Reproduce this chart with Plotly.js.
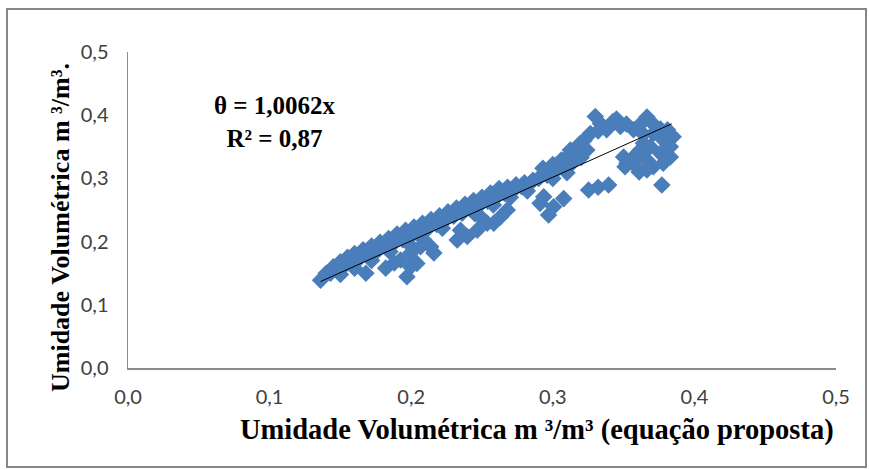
<!DOCTYPE html>
<html>
<head>
<meta charset="utf-8">
<script src="https://cdn.plot.ly/plotly-3.0.1.min.js"></script>
<style>html,body{margin:0;padding:0;background:#fff;}#chart{width:869px;height:470px;}</style>
</head>
<body>
<div id="chart"></div>
<script>
// Umidade volumétrica (equação proposta) vs medida, m3/m3
const bandTopX = [0.140,0.145,0.150,0.155,0.160,0.166,0.172,0.178,0.184,0.190,0.196,0.202,0.208,0.214,0.220,0.226,0.232,0.238,0.244,0.250,0.256,0.262,0.268,0.274,0.280,0.286,0.293,0.300,0.306,0.313,0.322];
const bandTopY = [0.150,0.160,0.168,0.175,0.181,0.187,0.193,0.199,0.205,0.212,0.218,0.223,0.229,0.235,0.241,0.247,0.253,0.259,0.265,0.270,0.277,0.284,0.286,0.290,0.293,0.297,0.316,0.322,0.329,0.337,0.360];

const bandMidX = [0.136,0.143,0.148,0.153,0.158,0.163,0.170,0.176,0.182,0.188,0.194,0.200,0.206,0.212,0.218,0.224,0.230,0.236,0.242,0.248,0.254,0.260,0.266,0.272,0.278,0.284,0.290,0.296,0.302,0.308,0.314,0.320];
const bandMidY = [0.139,0.150,0.157,0.162,0.167,0.172,0.178,0.185,0.191,0.198,0.203,0.209,0.215,0.221,0.227,0.234,0.240,0.245,0.251,0.257,0.264,0.270,0.276,0.281,0.287,0.292,0.300,0.305,0.312,0.318,0.325,0.333];

const bandLowX = [0.150,0.160,0.172,0.185,0.198,0.222,0.245,0.258,0.270,0.282,0.300,0.310];
const bandLowY = [0.148,0.158,0.170,0.184,0.197,0.221,0.244,0.258,0.270,0.280,0.300,0.309];

const lowClusterX = [0.168,0.182,0.188,0.1925,0.197,0.1996,0.1996,0.204,0.2066,0.209,0.2137,0.216,0.2325,0.2348,0.2396,0.2466,0.249,0.2537,0.2583,0.263,0.2678,0.291,0.2936,0.297,0.3006,0.3077,0.3253,0.332,0.3394,0.377];
const lowClusterY = [0.150,0.158,0.166,0.171,0.1445,0.160,0.182,0.1655,0.192,0.2025,0.192,0.182,0.2025,0.218,0.208,0.218,0.239,0.229,0.229,0.239,0.250,0.2605,0.271,0.242,0.255,0.268,0.2816,0.286,0.2896,0.2896];

const upperX = [0.310,0.3124,0.317,0.3195,0.324,0.3265,0.330,0.332,0.3336,0.338,0.3425,0.345,0.3477,0.352,0.357,0.3615,0.3665,0.370,0.371,0.364,0.376,0.381,0.378,0.385,0.383,0.3688,0.3618,0.364,0.376,0.383,0.378,0.371,0.3665,0.3665,0.359,0.3524,0.350,0.357,0.351,0.361];
const upperY = [0.334,0.345,0.334,0.3555,0.345,0.371,0.398,0.375,0.387,0.377,0.390,0.394,0.382,0.386,0.377,0.385,0.397,0.388,0.371,0.370,0.378,0.377,0.361,0.366,0.350,0.350,0.345,0.3555,0.3396,0.334,0.324,0.3185,0.3133,0.329,0.3185,0.324,0.334,0.334,0.3185,0.310];

const trendSlope = 1.0062;
const trendX = [0.136, 0.384];
const eqLines = ["θ = 1,0062x", "R² = 0,87"];
const xTitle = "Umidade Volumétrica m ³/m³ (equação proposta)";
const yTitle = "Umidade Volumétrica m ³/m³.";

const allX = [].concat(bandTopX, bandMidX, bandLowX, lowClusterX, upperX);
const allY = [].concat(bandTopY, bandMidY, bandLowY, lowClusterY, upperY);

const traces = [
  {x: allX, y: allY, type: 'scatter', mode: 'markers',
   marker: {symbol: 'diamond', size: 13.5, color: '#4A7EBB', line: {width: 0}}, hoverinfo: 'skip'},
  {x: trendX, y: trendX.map(v => trendSlope * v), type: 'scatter', mode: 'lines',
   line: {color: '#000000', width: 1}, hoverinfo: 'skip'}
];

const W = 869, H = 470, L = 128, R = 33, T = 52, B = 102;
const pw = W - L - R, ph = H - T - B;
const px = v => (v - L) / pw;
const py = v => (H - B - v) / ph;

const layout = {
  width: W, height: H,
  margin: {l: L, r: R, t: T, b: B},
  paper_bgcolor: '#fff', plot_bgcolor: '#fff',
  separators: ',.',
  showlegend: false,
  font: {family: 'Lato', size: 20, color: '#404040'},
  xaxis: {range: [0, 0.5], dtick: 0.1, tick0: 0, tickformat: '.1f', showgrid: false, zeroline: false,
          showline: true, linecolor: '#8C8C8C', linewidth: 1.5, ticks: 'outside', ticklen: 10, tickcolor: 'rgba(0,0,0,0)',
          fixedrange: true},
  yaxis: {range: [0, 0.5], dtick: 0.1, tick0: 0, tickformat: '.1f', showgrid: false, zeroline: false,
          showline: true, linecolor: '#8C8C8C', linewidth: 1.5, ticks: 'outside', ticklen: 14, tickcolor: 'rgba(0,0,0,0)',
          fixedrange: true},
  annotations: [
    {text: '<b>' + eqLines.join('</b><br><b>') + '</b>', xref: 'paper', yref: 'paper', x: px(275), y: py(122),
     xanchor: 'center', yanchor: 'middle', showarrow: false,
     font: {family: 'Liberation Serif', size: 25, color: '#000'}, align: 'center'},
    {text: '<b>' + xTitle + '</b>', xref: 'paper', yref: 'paper', x: px(836), y: py(430), xanchor: 'right', yanchor: 'middle',
     showarrow: false, font: {family: 'Liberation Serif', size: 28.5, color: '#000'}},
    {text: '<b>' + yTitle + '</b>', xref: 'paper', yref: 'paper', x: px(60), y: py(228), textangle: -90,
     xanchor: 'center', yanchor: 'middle',
     showarrow: false, font: {family: 'Liberation Serif', size: 26, color: '#000'}}
  ],
  shapes: [
    {type: 'rect', xref: 'paper', yref: 'paper', x0: px(7), x1: px(866), y0: py(467), y1: py(9),
     line: {color: '#868686', width: 2}, fillcolor: 'rgba(0,0,0,0)', layer: 'below'}
  ]
};

Plotly.newPlot('chart', traces, layout, {staticPlot: true, displayModeBar: false});
</script>
</body>
</html>
